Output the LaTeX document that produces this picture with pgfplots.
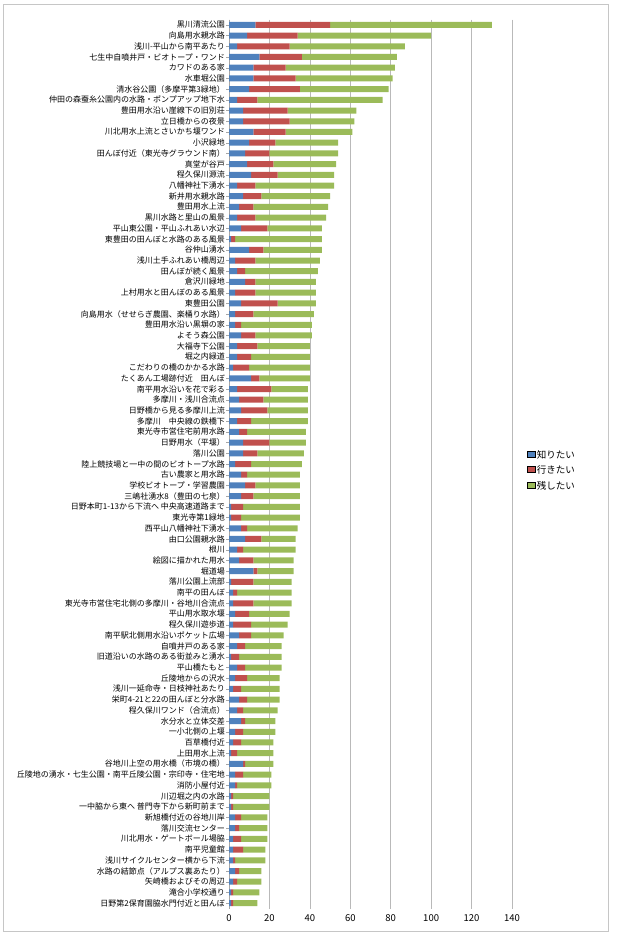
\documentclass[border=0pt]{standalone}
\usepackage{fontspec}
\setmainfont{Noto Sans CJK JP}
\usepackage{pgfplots}
\usepackage{pgfplotstable}
\pgfplotsset{compat=1.18}

\definecolor{cKnow}{HTML}{4F81BD}
\definecolor{cGo}{HTML}{C0504D}
\definecolor{cKeep}{HTML}{9BBB59}

% idx  know  go  keep
\pgfplotstableread{
idx know go keep
1 13 37 80
2 9 25 66
3 4 26 57
4 15 21 47
5 12 16 54
6 12 21 48
7 10 25 44
8 4 10 62
9 7 22 34
10 7 23 32
11 12 16 33
12 10 13 31
13 8 12 34
14 9 13 31
15 11 13 28
16 4 9 39
17 7 9 34
18 5 7 37
19 4 9 35
20 6 13 27
21 1 2 43
22 10 7 29
23 3 10 32
24 4 4 36
25 8 5 30
26 3 10 30
27 6 18 19
28 3 9 30
29 3 3 35
30 6 7 28
31 4 10 26
32 4 7 29
33 2 8 30
34 11 4 25
35 4 17 18
36 5 12 22
37 6 13 20
38 4 7 28
39 5 4 29
40 7 13 18
41 7 7 23
42 3 8 25
43 6 3 26
44 8 5 22
45 6 6 23
46 1 6 28
47 1 5 29
48 6 3 25
49 8 8 17
50 4 3 26
51 5 7 20
52 12 2 18
53 1 11 19
54 2 2 27
55 2 10 19
56 3 7 20
57 2 9 18
58 5 6 16
59 4 4 18
60 1 4 21
61 4 4 18
62 3 6 16
63 2 4 19
64 5 4 16
65 4 3 17
66 6 2 15
67 3 4 16
68 2 4 16
69 1 3 18
70 7 1 14
71 3 4 14
72 3 1 17
73 1 1 18
74 1 1 18
75 3 3 13
76 3 2 14
77 2 4 13
78 2 5 11
79 2 1 15
80 3 2 11
81 2 2 12
82 1 1 13
83 1 1 12
}\placedata

\begin{document}
\begin{tikzpicture}
% page frame
\path[use as bounding box] (0,0) rectangle (621pt,936pt);
\draw[gray!45, line width=0.6pt] (3pt,5pt) rectangle (608pt,932pt);
\begin{axis}[
  at={(229pt,27.5pt)}, anchor=south west,
  scale only axis,
  width=283pt, height=889pt,
  xbar stacked,
  bar width=6pt,
  xmin=0, xmax=140,
  xtick={0,20,...,140},
  ymin=0.5, ymax=83.5,
  y dir=reverse,
  ytick={1,...,83},
  yticklabels={
    {黒川清流公園},
    {向島用水親水路},
    {浅川-平山から南平あたり},
    {七生中自噴井戸・ビオトープ・ワンド},
    {カワドのある家},
    {水車堀公園},
    {清水谷公園（多摩平第3緑地）},
    {仲田の森蚕糸公園内の水路・ポンプアップ地下水},
    {豊田用水沿い崖線下の旧別荘},
    {立日橋からの夜景},
    {川北用水上流とさいかち堰ワンド},
    {小沢緑地},
    {田んぼ付近（東光寺グラウンド南）},
    {真堂が谷戸},
    {程久保川源流},
    {八幡神社下湧水},
    {新井用水親水路},
    {豊田用水上流},
    {黒川水路と里山の風景},
    {平山東公園・平山ふれあい水辺},
    {東豊田の田んぼと水路のある風景},
    {谷仲山湧水},
    {浅川土手ふれあい橋周辺},
    {田んぼが続く風景},
    {倉沢川緑地},
    {上村用水と田んぼのある風景},
    {東豊田公園},
    {向島用水（せせらぎ農園、楽桶り水路）},
    {豊田用水沿い黒塀の家},
    {よそう森公園},
    {大福寺下公園},
    {堀之内緑道},
    {こだわりの橋のかかる水路},
    {たくあん工場跡付近　田んぼ},
    {南平用水沿いを花で彩る},
    {多摩川・浅川合流点},
    {日野橋から見る多摩川上流},
    {多摩川　中央線の鉄橋下},
    {東光寺市営住宅前用水路},
    {日野用水（平堰）},
    {落川公園},
    {陸上競技場と一中の間のビオトープ水路},
    {古い農家と用水路},
    {学校ビオトープ・学習農園},
    {三嶋社湧水8（豊田の七泉）},
    {日野本町1-13から下流へ 中央高速道路まで},
    {東光寺第1緑地},
    {西平山八幡神社下湧水},
    {由口公園親水路},
    {根川},
    {絵図に描かれた用水},
    {堀道場},
    {落川公園上流部},
    {南平の田んぼ},
    {東光寺市営住宅北側の多摩川・谷地川合流点},
    {平山用水取水堰},
    {程久保川遊歩道},
    {南平駅北側用水沿いポケット広場},
    {自噴井戸のある家},
    {旧道沿いの水路のある街並みと湧水},
    {平山橋たもと},
    {丘陵地からの沢水},
    {浅川一延命寺・日枝神社あたり},
    {栄町4-21と22の田んぼと分水路},
    {程久保川ワンド（合流点）},
    {水分水と立体交差},
    {一小北側の上堰},
    {百草橋付近},
    {上田用水上流},
    {谷地川上空の用水橋（市境の橋）},
    {丘陵地の湧水・七生公園・南平丘陵公園・宗印寺・住宅地},
    {消防小屋付近},
    {川辺堀之内の水路},
    {一中脇から東へ 普門寺下から新町前まで},
    {新旭橋付近の谷地川岸},
    {落川交流センター},
    {川北用水・ゲートボール場脇},
    {南平児童館},
    {浅川サイクルセンター横から下流},
    {水路の結節点（アルプス裏あたり）},
    {矢崎橋およびその周辺},
    {滝合小学校通り},
    {日野第2保育園脇水門付近と田んぼ}
  },
  yticklabel style={font=\fontsize{8}{8.5}\selectfont, inner sep=1pt},
  xticklabel style={font=\fontsize{9.5}{10}\selectfont},
  /pgf/number format/assume math mode=true,
  axis x line*=bottom,
  axis y line*=left,
  axis line style={gray!70},
  x axis line style={draw=none},
  xmajorgrids,
  major grid style={gray!55, line width=0.5pt},
  ytick style={gray!70},
  xtick style={draw=none},
  tick align=outside,
  major tick length=3pt,
  legend style={at={(1.04,0.52)}, anchor=north west, draw=none,
    font=\fontsize{9.5}{10}\selectfont, row sep=2pt,
    legend image code/.code={\fill[#1] (0pt,-2.8pt) rectangle (5.6pt,2.8pt);}},
  legend cell align=left,
]
\addplot[fill=cKnow, draw=none] table[x=know, y=idx] {\placedata};
\addplot[fill=cGo, draw=none] table[x=go, y=idx] {\placedata};
\addplot[fill=cKeep, draw=none] table[x=keep, y=idx] {\placedata};
\legend{知りたい, 行きたい, 残したい}
\end{axis}
\end{tikzpicture}
\end{document}
